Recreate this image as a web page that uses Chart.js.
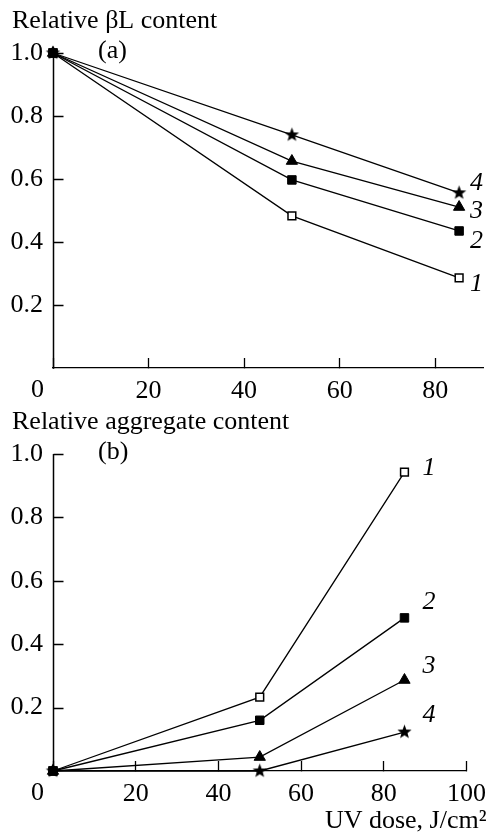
<!DOCTYPE html>
<html>
<head>
<meta charset="utf-8">
<script src="https://cdn.jsdelivr.net/npm/chart.js@4/dist/chart.umd.min.js"></script>
<style>
  html, body { margin: 0; padding: 0; background: #fff; }
  #wrap { position: relative; width: 504px; height: 833px; }
  canvas { position: absolute; left: 0; }
  #chartA { top: 0; }
  #chartB { top: 400px; }
</style>
</head>
<body>
<div id="wrap">
  <canvas id="chartA" width="504" height="400"></canvas>
  <canvas id="chartB" width="504" height="433"></canvas>
</div>
<script>
// UV dose, J/cm2
const doses = [0, 50, 85];

// (a) relative betaL content, curves 1-4
const betaL1 = [1.0, 0.483, 0.286];
const betaL2 = [1.0, 0.597, 0.435];
const betaL3 = [1.0, 0.657, 0.511];
const betaL4 = [1.0, 0.74, 0.556];

// (b) relative aggregate content, curves 1-4
const aggr1 = [0, 0.233, 0.943];
const aggr2 = [0, 0.16, 0.483];
const aggr3 = [0, 0.044, 0.287];
const aggr4 = [0, 0, 0.123];

const curveNames = ['1', '2', '3', '4'];

const FONT = "'Liberation Serif', 'Times New Roman', serif";
Chart.defaults.font.family = FONT;
Chart.defaults.font.size = 26;
Chart.defaults.color = '#000';

// filled five-point star used as marker for curve 4
function starImage(r) {
  const c = document.createElement('canvas');
  const s = Math.ceil(r * 2) + 2;
  c.width = c.height = s;
  const g = c.getContext('2d');
  g.beginPath();
  for (let i = 0; i < 10; i++) {
    const rad = i % 2 ? r * 0.42 : r;
    const a = -Math.PI / 2 + i * Math.PI / 5;
    g.lineTo(s / 2 + rad * Math.cos(a), s / 2 + rad * Math.sin(a));
  }
  g.closePath();
  g.fillStyle = '#000';
  g.fill();
  return c;
}
const star = starImage(7.5);

// marker per curve; filled square sits on top where curves meet
const markers = [
  { pointStyle: 'rect', pointBackgroundColor: '#fff', pointRadius: 5.5, pointBorderWidth: 1.5, order: 3 },
  { pointStyle: 'rect', pointBackgroundColor: '#000', pointRadius: 6, pointBorderWidth: 1, order: 0 },
  { pointStyle: 'triangle', pointBackgroundColor: '#000', pointRadius: 6.5, pointBorderWidth: 1, order: 1 },
  { pointStyle: star, pointBackgroundColor: '#000', pointRadius: 7, pointBorderWidth: 0, order: 2 }
];

function makeSets(series) {
  return series.map((vals, i) => Object.assign({
    label: curveNames[i],
    data: doses.map((d, k) => ({ x: d, y: vals[k] })),
    borderColor: '#000',
    borderWidth: 1.3,
    pointBorderColor: '#000',
    clip: false
  }, markers[i]));
}

// value axis line with inward tick marks
const yAxisLine = {
  id: 'yAxisLine',
  afterDraw(chart) {
    const { ctx, chartArea, scales: { y } } = chart;
    const ax = Math.round(chartArea.left) + 0.5;
    ctx.save();
    ctx.strokeStyle = '#000';
    ctx.lineWidth = 1.5;
    ctx.beginPath();
    ctx.moveTo(ax, chartArea.top);
    ctx.lineTo(ax, chartArea.bottom + 0.7);
    y.ticks.forEach(t => {
      if (t.value === 0) return;
      const py = Math.round(y.getPixelForValue(t.value)) + 0.5;
      ctx.moveTo(ax, py);
      ctx.lineTo(ax + 10, py);
    });
    ctx.stroke();
    ctx.restore();
  }
};

// headings, panel letter, corner zero and curve numbers
const annotate = {
  id: 'annotate',
  afterDraw(chart, args, opts) {
    const { ctx, chartArea } = chart;
    ctx.save();
    ctx.fillStyle = '#000';
    ctx.textBaseline = 'alphabetic';
    ctx.font = '26px ' + FONT;
    ctx.textAlign = 'left';
    ctx.fillText(opts.heading, 12, chartArea.top - 25);
    ctx.fillText(opts.panel, chartArea.left + 45, chartArea.top + 5);
    ctx.textAlign = 'right';
    ctx.fillText('0', chartArea.left - 9, chartArea.bottom + 29);
    if (opts.xTitle) {
      ctx.fillText(opts.xTitle, chartArea.right + 20, chartArea.bottom + 57);
    }
    ctx.font = 'italic 26px ' + FONT;
    ctx.textAlign = 'left';
    chart.data.datasets.forEach((ds, i) => {
      const pts = chart.getDatasetMeta(i).data;
      const last = pts[pts.length - 1];
      const [dx, dy] = opts.offsets[i];
      ctx.fillText(ds.label, last.x + dx, last.y + dy);
    });
    ctx.restore();
  }
};

function axes(xMax, xHeight) {
  return {
    x: {
      type: 'linear', min: 0, max: xMax,
      afterFit: s => { s.height = xHeight; },
      border: { display: true, color: '#000', width: 1.3 },
      grid: { drawOnChartArea: false, color: '#000', tickLength: -10, tickWidth: 1.3 },
      ticks: { stepSize: 20, includeBounds: false, padding: 18, maxRotation: 0,
               callback: v => (v === 0 ? '' : v) }
    },
    y: {
      min: 0, max: 1,
      afterFit: s => { s.width = 53; },
      border: { display: false },
      grid: { drawOnChartArea: false, drawTicks: false },
      ticks: { stepSize: 0.2, padding: 10,
               callback: v => (v === 0 ? '' : v.toFixed(1)) }
    }
  };
}

function panel(id, series, opts) {
  return new Chart(document.getElementById(id), {
    type: 'line',
    data: { datasets: makeSets(series) },
    options: {
      responsive: false,
      animation: false,
      layout: { padding: { top: opts.top, right: 21, left: 0, bottom: 0 } },
      scales: axes(opts.xMax, opts.xHeight),
      plugins: {
        legend: { display: false },
        tooltip: { enabled: false },
        annotate: opts.notes
      }
    },
    plugins: [yAxisLine, annotate]
  });
}

panel('chartA', [betaL1, betaL2, betaL3, betaL4], {
  top: 53, xMax: 90, xHeight: 32,
  notes: {
    heading: 'Relative \u03b2L content', panel: '(a)',
    offsets: [[11, 13], [11, 17], [11, 11], [11, -3]]
  }
});

panel('chartB', [aggr1, aggr2, aggr3, aggr4], {
  top: 54, xMax: 100, xHeight: 62,
  notes: {
    heading: 'Relative aggregate content', panel: '(b)',
    xTitle: 'UV dose, J/cm\u00b2',
    offsets: [[18, 3], [18, -9], [18, -7], [18, -10]]
  }
});
</script>
</body>
</html>
